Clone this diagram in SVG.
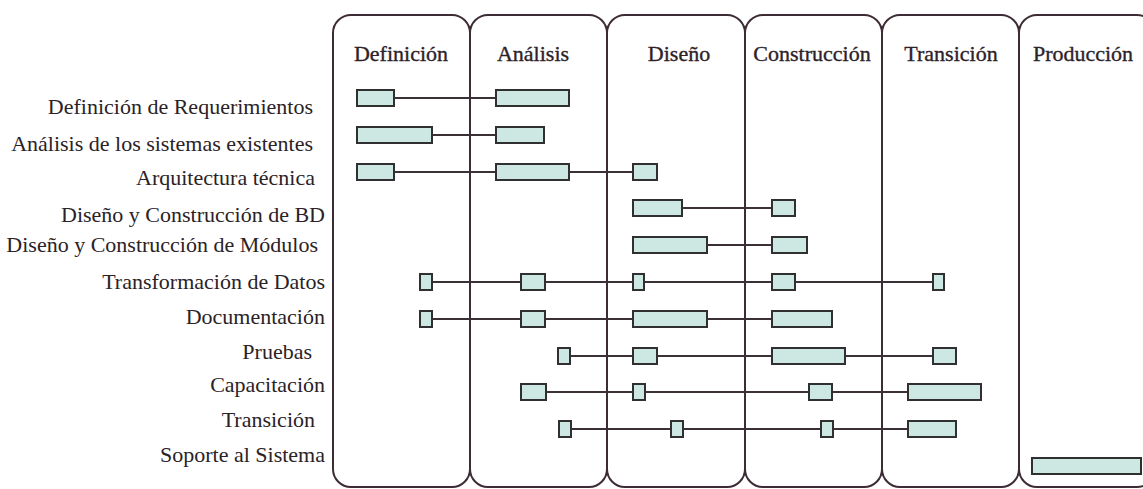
<svg xmlns="http://www.w3.org/2000/svg" width="1143" height="489" viewBox="0 0 1143 489">
  <style>
    .panel { fill: none; stroke: #3d2b35; stroke-width: 2; }
    .phase { font-family: "Liberation Serif", "Times New Roman", serif; font-size: 22px; fill: #2e2228; stroke: #2e2228; stroke-width: 0.35; text-anchor: middle; }
    .label { font-family: "Liberation Serif", "Times New Roman", serif; font-size: 22px; fill: #2a2226; text-anchor: end; }
    .bar { fill: #cde8e3; stroke: #303030; stroke-width: 2; }
    .link { stroke: #3a3035; stroke-width: 1.8; fill: none; }
  </style>
  <rect width="1143" height="489" fill="#ffffff"/>

  <!-- phase columns -->
  <g id="phases">
    <g id="phase-definicion">
      <rect class="panel" x="333" y="15" width="137" height="472" rx="18"/>
      <text class="phase" x="401" y="61">Definición</text>
    </g>
    <g id="phase-analisis">
      <rect class="panel" x="470" y="15" width="137" height="472" rx="18"/>
      <text class="phase" x="533" y="61">Análisis</text>
    </g>
    <g id="phase-diseno">
      <rect class="panel" x="607" y="15" width="138" height="472" rx="18"/>
      <text class="phase" x="679" y="61">Diseño</text>
    </g>
    <g id="phase-construccion">
      <rect class="panel" x="745" y="15" width="137" height="472" rx="18"/>
      <text class="phase" x="812" y="61">Construcción</text>
    </g>
    <g id="phase-transicion">
      <rect class="panel" x="882" y="15" width="137" height="472" rx="18"/>
      <text class="phase" x="951" y="61">Transición</text>
    </g>
    <g id="phase-produccion">
      <rect class="panel" x="1019" y="15" width="136" height="472" rx="18"/>
      <text class="phase" x="1083" y="61">Producción</text>
    </g>
  </g>

  <!-- links joining the bars of each activity -->
  <g id="connectors">
    <line class="link" x1="395" y1="98" x2="495" y2="98"/>
    <line class="link" x1="433" y1="135" x2="495" y2="135"/>
    <line class="link" x1="395" y1="172" x2="632" y2="172"/>
    <line class="link" x1="683" y1="208" x2="771" y2="208"/>
    <line class="link" x1="708" y1="245" x2="771" y2="245"/>
    <line class="link" x1="433" y1="282" x2="932" y2="282"/>
    <line class="link" x1="433" y1="319" x2="771" y2="319"/>
    <line class="link" x1="571" y1="356" x2="932" y2="356"/>
    <line class="link" x1="546" y1="392" x2="907" y2="392"/>
    <line class="link" x1="571" y1="429" x2="907" y2="429"/>
  </g>

  <!-- activities -->
  <g id="act-requerimientos">
    <text class="label" x="313" y="114">Definición de Requerimientos</text>
    <rect class="bar" x="357" y="90" width="37" height="16"/>
    <rect class="bar" x="496" y="90" width="73" height="16"/>
  </g>
  <g id="act-sistemas">
    <text class="label" x="313" y="151">Análisis de los sistemas existentes</text>
    <rect class="bar" x="357" y="127" width="75" height="16"/>
    <rect class="bar" x="496" y="127" width="48" height="16"/>
  </g>
  <g id="act-arquitectura">
    <text class="label" x="315" y="185">Arquitectura técnica</text>
    <rect class="bar" x="357" y="164" width="37" height="16"/>
    <rect class="bar" x="496" y="164" width="73" height="16"/>
    <rect class="bar" x="633" y="164" width="24" height="16"/>
  </g>
  <g id="act-bd">
    <text class="label" x="325" y="222">Diseño y Construcción de BD</text>
    <rect class="bar" x="633" y="200" width="49" height="16"/>
    <rect class="bar" x="772" y="200" width="23" height="16"/>
  </g>
  <g id="act-modulos">
    <text class="label" x="318" y="252">Diseño y Construcción de Módulos</text>
    <rect class="bar" x="633" y="237" width="74" height="16"/>
    <rect class="bar" x="772" y="237" width="35" height="16"/>
  </g>
  <g id="act-datos">
    <text class="label" x="325" y="289">Transformación de Datos</text>
    <rect class="bar" x="420" y="274" width="12" height="16"/>
    <rect class="bar" x="521" y="274" width="24" height="16"/>
    <rect class="bar" x="633" y="274" width="11" height="16"/>
    <rect class="bar" x="772" y="274" width="23" height="16"/>
    <rect class="bar" x="933" y="274" width="11" height="16"/>
  </g>
  <g id="act-documentacion">
    <text class="label" x="325" y="324">Documentación</text>
    <rect class="bar" x="420" y="311" width="12" height="16"/>
    <rect class="bar" x="521" y="311" width="24" height="16"/>
    <rect class="bar" x="633" y="311" width="74" height="16"/>
    <rect class="bar" x="772" y="311" width="60" height="16"/>
  </g>
  <g id="act-pruebas">
    <text class="label" x="312" y="359">Pruebas</text>
    <rect class="bar" x="558" y="348" width="12" height="16"/>
    <rect class="bar" x="633" y="348" width="24" height="16"/>
    <rect class="bar" x="772" y="348" width="73" height="16"/>
    <rect class="bar" x="933" y="348" width="23" height="16"/>
  </g>
  <g id="act-capacitacion">
    <text class="label" x="325" y="392">Capacitación</text>
    <rect class="bar" x="521" y="384" width="25" height="16"/>
    <rect class="bar" x="633" y="384" width="12" height="16"/>
    <rect class="bar" x="809" y="384" width="23" height="16"/>
    <rect class="bar" x="908" y="384" width="73" height="16"/>
  </g>
  <g id="act-transicion">
    <text class="label" x="315" y="427">Transición</text>
    <rect class="bar" x="559" y="421" width="12" height="16"/>
    <rect class="bar" x="671" y="421" width="12" height="16"/>
    <rect class="bar" x="821" y="421" width="12" height="16"/>
    <rect class="bar" x="908" y="421" width="48" height="16"/>
  </g>
  <g id="act-soporte">
    <text class="label" x="325" y="462">Soporte al Sistema</text>
    <rect class="bar" x="1032" y="458" width="109" height="16"/>
  </g>
</svg>
